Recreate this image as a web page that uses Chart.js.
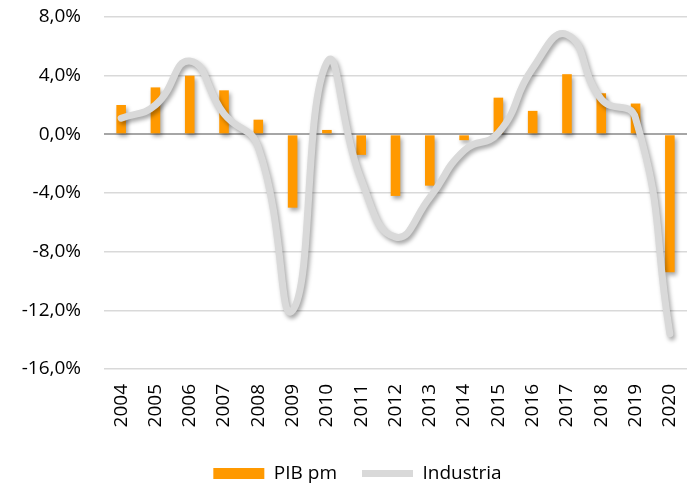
<!DOCTYPE html>
<html>
<head>
<meta charset="utf-8">
<script src="https://cdn.jsdelivr.net/npm/chart.js@4"></script>
<style>
  html, body { margin: 0; padding: 0; background: #fff; }
  #wrap { width: 688px; height: 486px; }
</style>
</head>
<body>
<div id="wrap"><canvas id="chart"></canvas></div>
<script>
"use strict";

const YEARS = ["2004", "2005", "2006", "2007", "2008", "2009", "2010", "2011", "2012",
               "2013", "2014", "2015", "2016", "2017", "2018", "2019", "2020"];
const PIB_PM    = [2.0, 3.2, 4.0, 3.0, 1.0, -5.0, 0.3, -1.4, -4.2, -3.5, -0.4, 2.5, 1.6, 4.1, 2.8, 2.1, -9.4];
const INDUSTRIA = [1.1, 2.0, 5.0, 1.4, -0.9, -12.0, 4.9, -3.1, -7.0, -4.3, -1.1, 0.1, 4.5, 6.8, 2.4, 1.1, -13.6];
const Y_TICKS   = [8, 4, 0, -4, -8, -12, -16];

const FONT = "'Open Sans', sans-serif";

// soft drop shadow like the office-style chart
const shadowPlugin = {
  id: "shadow",
  beforeDatasetDraw(chart) {
    const ctx = chart.ctx;
    ctx.save();
    ctx.shadowColor = "rgba(0,0,0,0.35)";
    ctx.shadowBlur = 4;
    ctx.shadowOffsetX = 2;
    ctx.shadowOffsetY = 3;
  },
  afterDatasetDraw(chart) {
    chart.ctx.restore();
  },
};

// the legend sits a little right of centre in the original
const legendNudge = {
  id: "legendNudge",
  afterLayout(chart) {
    chart.legend.left += 14;
    chart.legend.right += 14;
  },
};

const fmt = (v) => v.toFixed(1).replace(".", ",") + "%";

new Chart(document.getElementById("chart"), {
  type: "bar",
  data: {
    labels: YEARS,
    datasets: [
      {
        label: "PIB pm",
        data: PIB_PM,
        backgroundColor: "#ff9900",
        borderWidth: 0,
        barPercentage: 0.35,
        categoryPercentage: 0.8,
        pointStyle: "rect",
        order: 1,
      },
      {
        type: "line",
        label: "Industria",
        data: INDUSTRIA,
        borderColor: "#d9d9d9",
        backgroundColor: "#d9d9d9",
        borderWidth: 7,
        borderCapStyle: "round",
        borderJoinStyle: "round",
        tension: 0.5,
        pointRadius: 0,
        pointStyle: "line",
        order: 0,
      },
    ],
  },
  options: {
    responsive: true,
    maintainAspectRatio: false,
    animation: false,
    events: [],
    layout: { padding: { top: 17, right: 1, left: 0, bottom: -7 } },
    plugins: {
      tooltip: { enabled: false },
      legend: {
        position: "bottom",
        labels: {
          usePointStyle: true,
          pointStyleWidth: 51,
          boxHeight: 11,
          padding: 25,
          color: "#000",
          font: { family: FONT, size: 19 },
          sort: (a, b) => a.datasetIndex - b.datasetIndex,
        },
      },
    },
    scales: {
      x: {
        afterFit: (scale) => {
          scale.paddingLeft = 0;
          scale.paddingRight = 0;
          scale.paddingTop = 0;
          scale.paddingBottom = 0;
          scale.height = 70;
        },
        grid: { display: false, drawTicks: false },
        border: { display: false },
        ticks: {
          color: "#000",
          font: { family: FONT, size: 19 },
          minRotation: 90,
          maxRotation: 90,
          padding: 15,
          autoSkip: false,
        },
      },
      y: {
        min: -16,
        max: 8,
        afterBuildTicks: (scale) => {
          scale.ticks = Y_TICKS.map((v) => ({ value: v }));
        },
        afterFit: (scale) => {
          scale.width = 104;
          scale.paddingTop = 0;
          scale.paddingBottom = 0;
        },
        grid: {
          drawTicks: false,
          color: (c) => (c.tick && c.tick.value === 0 ? "#a6a6a6" : "#d9d9d9"),
          lineWidth: (c) => (c.tick && c.tick.value === 0 ? 2 : 1.5),
        },
        border: { display: false },
        ticks: {
          color: "#000",
          font: { family: FONT, size: 19 },
          padding: 23,
          callback: (v) => fmt(v),
        },
      },
    },
  },
  plugins: [shadowPlugin, legendNudge],
});
</script>
</body>
</html>
